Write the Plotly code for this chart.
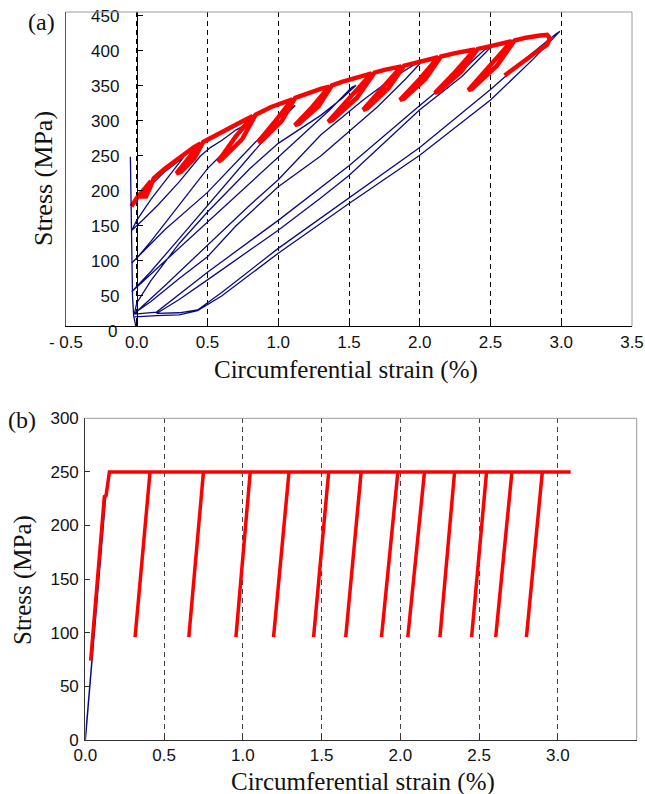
import plotly.graph_objects as go

# ---------------- panel (a): cyclic loading, measured vs simulated ----------------
# initial loading spike of the measured record
spike_strain = [0.0, -0.005, -0.022, -0.03, -0.034, -0.035, -0.038, -0.045]
spike_stress = [0, 5, 22, 50, 100, 150, 200, 249]

# measured loading/unloading loops, in test order
exp_strain = [
    -0.035, 0.0, 0.05, 0.1, 0.2, 0.33,
    0.3, 0.2, 0.1, 0.0, -0.035,
    0.05, 0.15, 0.3, 0.45, 0.52,
    0.6, 0.7, 0.8,
    0.74, 0.6, 0.5, 0.3, 0.1, 0.0, -0.035,
    0.2, 0.5, 0.8, 1.0, 1.08,
    1.12,
    1.05, 1.0, 0.8, 0.5, 0.3, 0.1, 0.0, -0.035,
    0.2, 0.5, 0.8, 1.0, 1.2, 1.365, 1.48, 1.52,
    1.55,
    1.45, 1.3, 1.0, 0.8, 0.5, 0.3, 0.1, 0.0, -0.016,
    0.2, 0.5, 0.8, 1.0, 1.3, 1.6, 1.8, 1.98,
    2.02,
    1.9, 1.7, 1.5, 1.3, 1.0, 0.7, 0.5, 0.3, 0.1, 0.0, -0.016,
    0.14, 0.5, 1.0, 1.5, 2.0, 2.3, 2.46,
    2.5,
    2.3, 2.0, 1.5, 1.3, 1.0, 0.5, 0.3, 0.14,
    0.3, 0.43, 0.6, 1.0, 1.5, 2.0, 2.5, 2.8, 2.96,
    2.99,
    2.8, 2.5, 2.0, 1.5, 1.0, 0.6, 0.43, 0.3, 0.14, 0.0, -0.016,
]
exp_stress = [
    180, 188, 198, 208, 228, 248,
    240, 215, 188, 158, 144,
    160, 180, 213, 250, 262,
    272, 287, 298,
    285, 252, 232, 180, 128, 104, 97,
    145, 198, 262, 304, 318,
    322,
    308, 296, 250, 180, 132, 85, 64, 56,
    100, 156, 212, 249, 286, 316, 340, 348,
    351,
    332, 308, 268, 232, 170, 125, 72, 40, 25,
    65, 122, 180, 216, 280, 330, 360, 383,
    386,
    360, 320, 285, 250, 206, 150, 106, 75, 42, 28, 24,
    27, 84, 158, 236, 322, 372, 402,
    405,
    364, 316, 222, 190, 144, 73, 45, 25,
    26, 30, 55, 118, 190, 262, 345, 398, 424,
    428,
    388, 330, 251, 182, 111, 50, 29, 23, 22, 21, 20,
]

# simulated response: envelope with narrow unload/reload hooks
sim_strain = [
    -0.037, 0.0, 0.05, 0.10,
    0.045, 0.065, 0.09, 0.12,
    0.2, 0.3, 0.4, 0.45,
    0.36, 0.28, 0.31, 0.405, 0.47,
    0.55, 0.65, 0.75, 0.82,
    0.70, 0.575, 0.60, 0.745, 0.84,
    0.95, 1.05, 1.10,
    0.98, 0.858, 0.885, 1.025, 1.12,
    1.2, 1.3, 1.36,
    1.24, 1.117, 1.145, 1.285, 1.38,
    1.45, 1.55, 1.66,
    1.50, 1.353, 1.38, 1.555, 1.68,
    1.75, 1.87,
    1.73, 1.60, 1.63, 1.78, 1.89,
    2.0, 2.13,
    2.0, 1.86, 1.89, 2.04, 2.15,
    2.25, 2.39,
    2.25, 2.107, 2.135, 2.295, 2.41,
    2.5, 2.65,
    2.5, 2.343, 2.37, 2.545, 2.67,
    2.75, 2.85, 2.9, 2.92, 2.9, 2.8, 2.6,
]
sim_stress = [
    178, 190, 202, 214,
    192, 192, 203, 218,
    232, 248, 262, 268,
    246, 225, 227, 246, 270,
    279, 290, 300, 307,
    278, 242, 245, 274, 309,
    320, 328, 331,
    300, 270, 272, 300, 333,
    339, 346, 349,
    320, 294, 296, 321, 351,
    356, 362, 368,
    332, 299, 301, 333, 369,
    373, 378,
    346, 316, 318, 347, 379,
    385, 391,
    360, 330, 332, 360, 392,
    397, 402,
    370, 340, 342, 371, 403,
    407, 414,
    380, 344, 346, 379, 415,
    419, 422, 423, 418, 409, 395, 365,
]

a_xticks = [-0.5, 0.0, 0.5, 1.0, 1.5, 2.0, 2.5, 3.0, 3.5]
a_xticklabels = ["- 0.5", "0.0", "0.5", "1.0", "1.5", "2.0", "2.5", "3.0", "3.5"]
a_yticks = [50, 100, 150, 200, 250, 300, 350, 400, 450]

# ---------------- panel (b): idealised elastic-perfectly-plastic model ----------------
b_elastic_strain = [0.0, 0.13]
b_elastic_stress = [0, 228]
b_load_strain = [0.034, 0.121, 0.132, 0.153, 3.081]
b_load_stress = [74, 227, 228, 250, 250]
b_unload_top_strain = [0.411, 0.750, 1.047, 1.293, 1.545, 1.751, 1.984, 2.153, 2.344, 2.547, 2.708, 2.901]
b_unload_bot_strain = [0.316, 0.657, 0.956, 1.195, 1.449, 1.653, 1.880, 2.047, 2.251, 2.452, 2.605, 2.800]
b_unload_top_stress = 250
b_unload_bot_stress = 96

b_xticks = [0.0, 0.5, 1.0, 1.5, 2.0, 2.5, 3.0, 3.5]
b_yticks = [0, 50, 100, 150, 200, 250, 300]

BLUE = "#0b0b80"
RED = "#ff0000"
TICK_FONT = dict(family="Liberation Sans, Arial, sans-serif", size=17, color="#111")
SERIF = "Liberation Serif, Times New Roman, serif"

fig = go.Figure()

# panel (a); the spike is plotted on the inner stress axis (same scale)
fig.add_trace(go.Scatter(x=spike_strain, y=spike_stress, mode="lines",
                         line=dict(color=BLUE, width=1.3), xaxis="x", yaxis="y3",
                         showlegend=False, hoverinfo="skip"))
fig.add_trace(go.Scatter(x=exp_strain, y=exp_stress, mode="lines",
                         line=dict(color=BLUE, width=1.3), xaxis="x", yaxis="y",
                         showlegend=False, hoverinfo="skip"))
fig.add_trace(go.Scatter(x=sim_strain, y=sim_stress, mode="lines",
                         line=dict(color=RED, width=4.5), xaxis="x", yaxis="y",
                         showlegend=False, hoverinfo="skip"))

# panel (b)
fig.add_trace(go.Scatter(x=b_elastic_strain, y=b_elastic_stress, mode="lines",
                         line=dict(color=BLUE, width=1.5), xaxis="x2", yaxis="y2",
                         showlegend=False, hoverinfo="skip"))
fig.add_trace(go.Scatter(x=b_load_strain, y=b_load_stress, mode="lines",
                         line=dict(color=RED, width=3.5), xaxis="x2", yaxis="y2",
                         showlegend=False, hoverinfo="skip"))
ux, uy = [], []
for top, bot in zip(b_unload_top_strain, b_unload_bot_strain):
    ux += [top, bot, None]
    uy += [b_unload_top_stress, b_unload_bot_stress, None]
fig.add_trace(go.Scatter(x=ux, y=uy, mode="lines",
                         line=dict(color=RED, width=3.5), xaxis="x2", yaxis="y2",
                         showlegend=False, hoverinfo="skip"))

W, H = 645, 794
a_left, a_right, a_top, a_bot = 66, 632, 12, 326
b_left, b_right, b_top, b_bot = 85.3, 636.7, 418.3, 740
a_yrange = [7.1, 455.7]

fig.update_layout(
    width=W, height=H, autosize=False,
    margin=dict(l=0, r=0, t=0, b=0, autoexpand=False),
    paper_bgcolor="white", plot_bgcolor="white",
    xaxis=dict(domain=[a_left / W, a_right / W], anchor="y", range=[-0.5, 3.5],
               tickvals=a_xticks, ticktext=a_xticklabels, ticks="inside", ticklen=4,
               tickcolor="#000", showgrid=True, gridcolor="#000", gridwidth=1,
               griddash="5px,4px", zeroline=False, showline=True, linecolor="#000",
               linewidth=1, tickfont=TICK_FONT, ticklabelstandoff=1, automargin=False),
    yaxis=dict(domain=[1 - a_bot / H, 1 - a_top / H], anchor="x", range=a_yrange,
               showticklabels=False, ticks="", showgrid=False, zeroline=False,
               showline=True, linecolor="#555", linewidth=1, automargin=False),
    yaxis3=dict(overlaying="y", anchor="free", position=(a_left + (a_right - a_left) / 8) / W,
                range=a_yrange, tickvals=a_yticks, ticks="inside", ticklen=5,
                tickcolor="#000", showgrid=False, zeroline=False, showline=True,
                linecolor="#000", linewidth=1, tickfont=TICK_FONT, ticklabelstandoff=14,
                automargin=False),
    xaxis2=dict(domain=[b_left / W, b_right / W], anchor="y2", range=[0, 3.5],
                tickvals=b_xticks, tickformat=".1f", ticks="inside", ticklen=5,
                tickcolor="#333", showgrid=True, gridcolor="#444", gridwidth=1,
                griddash="5px,4px", zeroline=False, showline=True, linecolor="#333",
                linewidth=1.2, tickfont=TICK_FONT, ticklabelstandoff=-1, automargin=False),
    yaxis2=dict(domain=[1 - b_bot / H, 1 - b_top / H], anchor="x2", range=[0, 300],
                tickvals=b_yticks, ticks="inside", ticklen=5, tickcolor="#333",
                showgrid=False, zeroline=False, showline=True, linecolor="#333",
                linewidth=1.2, tickfont=TICK_FONT, ticklabelstandoff=2, automargin=False),
)

# light frame on the top and right sides of both panels
for xr, yr in (("x domain", "y domain"), ("x2 domain", "y2 domain")):
    fig.add_shape(type="line", xref=xr, yref=yr, x0=0, x1=1, y0=1, y1=1,
                  line=dict(color="#9a9a9a", width=1))
    fig.add_shape(type="line", xref=xr, yref=yr, x0=1, x1=1, y0=0, y1=1,
                  line=dict(color="#9a9a9a", width=1))


def label(px, py, text, size, angle=0, family=SERIF, xanchor="center"):
    fig.add_annotation(x=px / W, y=1 - py / H, xref="paper", yref="paper", text=text,
                       textangle=angle, showarrow=False, xanchor=xanchor,
                       yanchor="middle", font=dict(family=family, size=size, color="#111"))


# zero label of the inner stress axis in panel (a) sits just under the strain axis
label(119, 331, "0", TICK_FONT["size"], family=TICK_FONT["family"], xanchor="right")

label(41, 22, "(a)", 24)
label(22, 420, "(b)", 24)
label(43, 179, "Stress (MPa)", 26, -90)
label(23, 580, "Stress (MPa)", 25, -90)
label(346, 370, "Circumferential strain (%)", 25)
label(363, 782, "Circumferential strain (%)", 25)

fig.write_html("out.html")
